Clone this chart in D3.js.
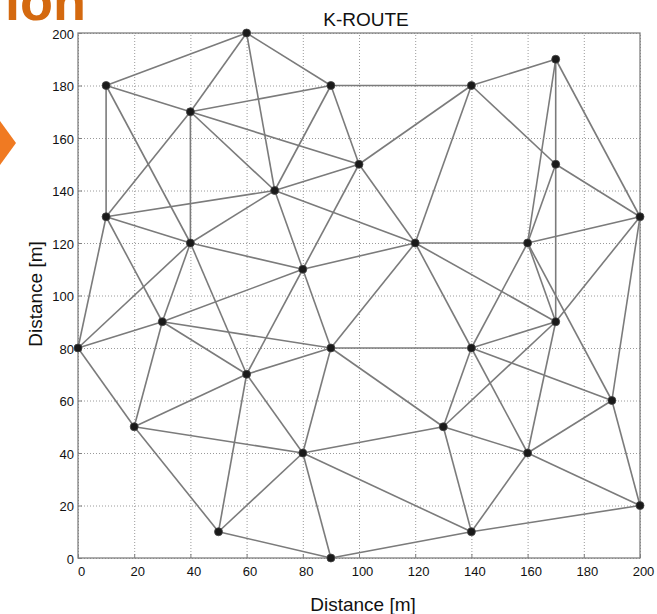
<!DOCTYPE html>
<html>
<head>
<meta charset="utf-8">
<script src="https://cdn.jsdelivr.net/npm/d3@7"></script>
<style>
  body { margin: 0; background: #fff; }
  svg text { font-family: Arial, "Liberation Sans", sans-serif; }
</style>
</head>
<body>
<div id="chart"></div>
<script>
/* global d3 */
var title = "K-ROUTE",
  xLabel = "Distance [m]",
  yLabel = "Distance [m]",
  slideText = "ion";

var axisTicks = [0, 20, 40, 60, 80, 100, 120, 140, 160, 180, 200];

// node positions
var nodeNames = ["A", "B", "C", "D", "E", "F", "G", "H", "I", "J",
  "K", "L", "M", "N", "O", "P", "Q", "R", "S", "T",
  "U", "V", "W", "X", "Y", "Z", "AA", "AB", "AC", "AD"];
var nodeX = [10, 40, 60, 90, 100, 70, 140, 170, 170, 200,
  10, 40, 80, 120, 160, 30, 0, 90, 140, 170,
  60, 20, 80, 50, 90, 130, 160, 190, 200, 140];
var nodeY = [180, 170, 200, 180, 150, 140, 180, 190, 150, 130,
  130, 120, 110, 120, 120, 90, 80, 80, 80, 90,
  70, 50, 40, 10, 0, 50, 40, 60, 20, 10];

// links between nodes
var links = [
  ["A", "C"], ["A", "B"], ["A", "K"], ["A", "L"],
  ["B", "C"], ["B", "D"], ["B", "E"], ["B", "L"], ["B", "K"], ["B", "F"],
  ["C", "D"], ["C", "F"],
  ["D", "F"], ["D", "E"], ["D", "G"],
  ["E", "F"], ["E", "G"], ["E", "M"], ["E", "N"],
  ["F", "K"], ["F", "L"], ["F", "M"], ["F", "N"],
  ["G", "H"], ["G", "I"], ["G", "N"],
  ["H", "J"], ["H", "I"], ["H", "O"],
  ["I", "J"], ["I", "O"], ["I", "T"],
  ["J", "O"], ["J", "T"], ["J", "AB"],
  ["K", "L"], ["K", "P"], ["K", "Q"],
  ["L", "M"], ["L", "P"], ["L", "Q"], ["L", "U"],
  ["M", "N"], ["M", "P"], ["M", "R"], ["M", "U"],
  ["N", "O"], ["N", "R"], ["N", "S"], ["N", "T"],
  ["O", "S"], ["O", "T"], ["O", "AB"],
  ["P", "Q"], ["P", "R"], ["P", "U"], ["P", "V"],
  ["Q", "V"],
  ["R", "S"], ["R", "U"], ["R", "W"], ["R", "Z"],
  ["S", "T"], ["S", "Z"], ["S", "AA"], ["S", "AB"],
  ["T", "Z"], ["T", "AA"],
  ["U", "V"], ["U", "X"], ["U", "W"],
  ["V", "W"], ["V", "X"],
  ["W", "X"], ["W", "Y"], ["W", "Z"], ["W", "AD"],
  ["X", "Y"],
  ["Y", "AD"],
  ["Z", "AA"], ["Z", "AD"],
  ["AA", "AB"], ["AA", "AC"], ["AA", "AD"],
  ["AB", "AC"],
  ["AC", "AD"]
];

var width = 657,
  height = 614,
  margin = {top: 33, right: 17, bottom: 56, left: 78};

var innerW = width - margin.left - margin.right,
  innerH = height - margin.top - margin.bottom;

var x = d3.scaleLinear().domain([0, 200]).range([0, innerW]);
var y = d3.scaleLinear().domain([0, 200]).range([innerH, 0]);

var nodes = nodeNames.map(function (n, i) {
  return {name: n, x: nodeX[i], y: nodeY[i]};
});
var byName = {};
nodes.forEach(function (d) { byName[d.name] = d; });

var svg = d3.select("#chart").append("svg")
  .attr("width", width)
  .attr("height", height);

// bits of the slide behind the figure
svg.append("text")
  .attr("x", 86)
  .attr("y", 20)
  .attr("text-anchor", "end")
  .style("font-size", "54px")
  .style("font-weight", "bold")
  .style("fill", "#D4690F")
  .text(slideText);

svg.append("polygon")
  .attr("points", "0,121 16,143 0,165")
  .style("fill", "#F07A22");

var g = svg.append("g")
  .attr("transform", "translate(" + margin.left + "," + margin.top + ")");

// grid
g.append("g")
  .attr("class", "grid")
  .attr("transform", "translate(0," + innerH + ")")
  .call(d3.axisBottom(x).tickValues(axisTicks).tickSize(-innerH).tickFormat(""))
  .call(function (s) { s.select(".domain").remove(); });

g.append("g")
  .attr("class", "grid")
  .call(d3.axisLeft(y).tickValues(axisTicks).tickSize(-innerW).tickFormat(""))
  .call(function (s) { s.select(".domain").remove(); });

g.selectAll(".grid line")
  .style("stroke", "#9a9a9a")
  .style("stroke-width", 1)
  .style("stroke-dasharray", "1,2");

// frame
g.append("rect")
  .attr("width", innerW)
  .attr("height", innerH)
  .style("fill", "none")
  .style("stroke", "#808080")
  .style("stroke-width", 1.3);

// axes labels
var xAxis = g.append("g")
  .attr("transform", "translate(0," + innerH + ")")
  .call(d3.axisBottom(x).tickValues(axisTicks).tickSizeInner(-4).tickSizeOuter(0).tickPadding(9));

var yAxis = g.append("g")
  .call(d3.axisLeft(y).tickValues(axisTicks).tickSizeInner(-4).tickSizeOuter(0).tickPadding(4));

[xAxis, yAxis].forEach(function (a) {
  a.select(".domain").remove();
  a.selectAll("line").style("stroke", "#808080");
  a.selectAll("text").style("font-size", "13px").style("fill", "#111");
});
xAxis.selectAll("text").attr("dx", "3");
yAxis.selectAll("text").attr("dy", "0.42em");

// links
g.selectAll(".link")
  .data(links)
  .enter().append("line")
  .attr("class", "link")
  .attr("x1", function (d) { return x(byName[d[0]].x); })
  .attr("y1", function (d) { return y(byName[d[0]].y); })
  .attr("x2", function (d) { return x(byName[d[1]].x); })
  .attr("y2", function (d) { return y(byName[d[1]].y); })
  .style("stroke", "#7b7b7b")
  .style("stroke-width", 1.6);

// nodes
g.selectAll(".node")
  .data(nodes)
  .enter().append("circle")
  .attr("class", "node")
  .attr("cx", function (d) { return x(d.x); })
  .attr("cy", function (d) { return y(d.y); })
  .attr("r", 4)
  .style("fill", "#1a1a1a")
  .style("stroke", "#444")
  .style("stroke-width", 0.8);

// titles
svg.append("text")
  .attr("x", 366)
  .attr("y", 26)
  .attr("text-anchor", "middle")
  .style("font-size", "19px")
  .style("fill", "#111")
  .text(title);

svg.append("text")
  .attr("x", 363)
  .attr("y", 611)
  .attr("text-anchor", "middle")
  .style("font-size", "19px")
  .style("fill", "#111")
  .text(xLabel);

svg.append("text")
  .attr("transform", "translate(42,294) rotate(-90)")
  .attr("text-anchor", "middle")
  .style("font-size", "19px")
  .style("fill", "#111")
  .text(yLabel);
</script>
</body>
</html>
